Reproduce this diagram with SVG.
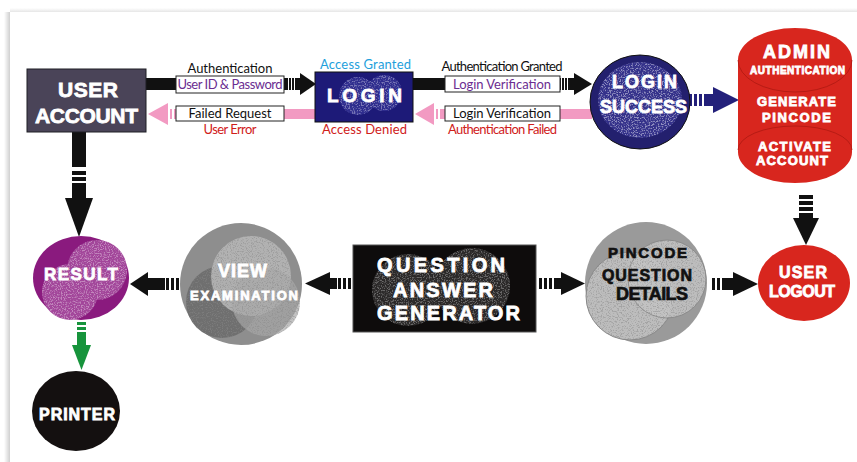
<svg xmlns="http://www.w3.org/2000/svg" width="857" height="462" viewBox="0 0 857 462">
<defs>
  <style>
    .h{font-family:"Liberation Sans",Arial,sans-serif;font-weight:bold;fill:#fff;stroke:#fff;stroke-width:.8;text-anchor:middle}
    .hk{font-family:"Liberation Sans",Arial,sans-serif;font-weight:bold;fill:#111;stroke:#111;stroke-width:.7;text-anchor:middle}
    .lb{font-family:Lato,"Open Sans",sans-serif;font-size:13px;text-anchor:middle}
    .box{fill:#fff;stroke:#222;stroke-width:1}
    .blk{fill:#111}
    .pnk{fill:#f29ac2}
    .nav{fill:#23207a}
    .grn{fill:#17943c}
  </style>
  <filter id="spw" x="0" y="0" width="100%" height="100%">
    <feTurbulence type="fractalNoise" baseFrequency="0.75" numOctaves="3" seed="5"/>
    <feColorMatrix type="matrix" values="0 0 0 0 1  0 0 0 0 1  0 0 0 0 1  5 0 0 0 -2.4"/>
    <feComposite in2="SourceGraphic" operator="in"/>
  </filter>
  <filter id="spk" x="0" y="0" width="100%" height="100%">
    <feTurbulence type="fractalNoise" baseFrequency="0.8" numOctaves="3" seed="9"/>
    <feColorMatrix type="matrix" values="0 0 0 0 0.25  0 0 0 0 0.25  0 0 0 0 0.25  5 0 0 0 -2.5"/>
    <feComposite in2="SourceGraphic" operator="in"/>
  </filter>
  <linearGradient id="shL" x1="0" y1="0" x2="1" y2="0">
    <stop offset="0" stop-color="#fff"/>
    <stop offset="1" stop-color="#cfcfcf"/>
  </linearGradient>
  <linearGradient id="shT" x1="0" y1="0" x2="0" y2="1">
    <stop offset="0" stop-color="#fff"/>
    <stop offset="1" stop-color="#e6e6e6"/>
  </linearGradient>
</defs>

<rect width="857" height="462" fill="#fff"/>
<g id="page">
  <rect x="4" y="12" width="6" height="450" fill="url(#shL)"/>
  <rect x="10" y="8" width="847" height="4" fill="url(#shT)"/>
</g>

<g id="connectors">
  <!-- USER ACCOUNT -> LOGIN -->
  <g class="blk">
    <rect x="146" y="78" width="142" height="12"/>
    <rect x="289" y="78" width="2" height="12"/>
    <rect x="292" y="78" width="2" height="12"/>
    <rect x="295" y="78" width="6" height="12"/>
    <path d="M300,73 L316,84 L300,95 Z"/>
  </g>
  <rect class="box" x="176" y="76" width="108" height="17"/>
  <text class="lb" x="230" y="72.5" fill="#111" textLength="85">Authentication</text>
  <text class="lb" x="230" y="88.5" fill="#6b2d91" textLength="105">User ID &amp; Password</text>

  <!-- LOGIN -> USER ACCOUNT (failed) -->
  <g class="pnk">
    <rect x="174" y="109" width="141" height="10"/>
    <rect x="170" y="109" width="2" height="10"/>
    <path d="M168,103 L148,114 L168,125 Z"/>
  </g>
  <rect class="box" x="176" y="106" width="108" height="15"/>
  <text class="lb" x="230" y="117.5" fill="#111" textLength="83">Failed Request</text>
  <text class="lb" x="230" y="133.5" fill="#d0201a" font-size="12" textLength="53">User Error</text>

  <!-- LOGIN -> LOGIN SUCCESS -->
  <g class="blk">
    <rect x="413" y="78" width="148" height="12"/>
    <rect x="562" y="78" width="2" height="12"/>
    <rect x="565" y="78" width="2" height="12"/>
    <rect x="568" y="78" width="7" height="12"/>
    <path d="M574,73 L592,84 L574,95 Z"/>
  </g>
  <rect class="box" x="445" y="76" width="115" height="16"/>
  <text class="lb" x="502" y="71" fill="#111" font-size="12.5" textLength="121">Authentication Granted</text>
  <text class="lb" x="502" y="88.5" fill="#6b2d91" font-size="14" textLength="98">Login Verification</text>

  <!-- LOGIN SUCCESS -> LOGIN (failed) -->
  <g class="pnk">
    <rect x="440" y="109" width="152" height="10"/>
    <rect x="436" y="109" width="2" height="10"/>
    <path d="M434,103 L415,114 L434,125 Z"/>
  </g>
  <rect class="box" x="445" y="106" width="115" height="15"/>
  <text class="lb" x="502" y="118" fill="#111" font-size="14" textLength="98">Login Verification</text>
  <text class="lb" x="502.5" y="134" fill="#d0201a" font-size="12.5" textLength="109">Authentication Failed</text>

  <!-- LOGIN SUCCESS -> ADMIN -->
  <g class="nav">
    <rect x="688" y="94" width="4" height="12"/>
    <rect x="694" y="94" width="3" height="12"/>
    <rect x="699" y="94" width="3" height="12"/>
    <rect x="704" y="94" width="10" height="12"/>
    <path d="M713,87 L739,100 L713,113 Z"/>
  </g>

  <!-- ADMIN -> USER LOGOUT -->
  <g class="blk">
    <rect x="799" y="195" width="14" height="4"/>
    <rect x="799" y="201" width="14" height="4"/>
    <rect x="799" y="207" width="14" height="4"/>
    <rect x="799" y="213" width="14" height="6"/>
    <path d="M793,218 L819,218 L806,245 Z"/>
  </g>

  <!-- PINCODE -> USER LOGOUT -->
  <g class="blk">
    <rect x="712" y="278" width="3" height="12"/>
    <rect x="717" y="278" width="3" height="12"/>
    <rect x="722" y="278" width="13" height="12"/>
    <path d="M733,272 L758,284 L733,296 Z"/>
  </g>

  <!-- QAG -> PINCODE -->
  <g class="blk">
    <rect x="539" y="278" width="3" height="11"/>
    <rect x="544" y="278" width="3" height="11"/>
    <rect x="549" y="278" width="3" height="11"/>
    <rect x="554" y="278" width="8" height="11"/>
    <path d="M561,272 L585,283.5 L561,295 Z"/>
  </g>

  <!-- QAG -> VIEW -->
  <g class="blk">
    <rect x="348" y="278" width="3" height="11"/>
    <rect x="343" y="278" width="3" height="11"/>
    <rect x="338" y="278" width="3" height="11"/>
    <rect x="329" y="278" width="8" height="11"/>
    <path d="M330,272 L305,283.5 L330,295 Z"/>
  </g>

  <!-- VIEW -> RESULT -->
  <g class="blk">
    <rect x="176" y="278" width="3" height="12"/>
    <rect x="171" y="278" width="3" height="12"/>
    <rect x="166" y="278" width="3" height="12"/>
    <rect x="147" y="278" width="18" height="12"/>
    <path d="M148,272 L130,284 L148,296 Z"/>
  </g>

  <!-- USER ACCOUNT -> RESULT -->
  <g class="blk">
    <rect x="72" y="132" width="14" height="35"/>
    <rect x="72" y="171" width="14" height="4"/>
    <rect x="72" y="177" width="14" height="4"/>
    <rect x="72" y="183" width="14" height="16"/>
    <path d="M65,198 L93,198 L79,237 Z"/>
  </g>

  <!-- RESULT -> PRINTER -->
  <g class="grn">
    <rect x="77" y="322" width="9" height="3"/>
    <rect x="77" y="327" width="9" height="3"/>
    <rect x="77" y="332" width="9" height="14"/>
    <path d="M72,345 L91,345 L81.5,370 Z"/>
  </g>
</g>

<g id="user-account">
  <rect x="27" y="69" width="119" height="63" fill="#4a4458" stroke="#1e1e24" stroke-width="1"/>
  <text class="h" x="88" y="97" font-size="21" textLength="60">USER</text>
  <text class="h" x="86.5" y="123" font-size="21" textLength="103">ACCOUNT</text>
</g>

<g id="login">
  <rect x="315" y="72" width="98" height="50" fill="#1d1a78" stroke="#111" stroke-width="1"/>
  <circle cx="358" cy="96" r="19" fill="#2f2d8e"/>
  <circle cx="384" cy="93" r="18" fill="#2f2d8e"/>
  <g opacity="0.35" filter="url(#spw)">
    <circle cx="358" cy="96" r="19" fill="#000"/>
    <circle cx="384" cy="93" r="18" fill="#000"/>
  </g>
  <text class="h" x="364.5" y="102" font-size="19" textLength="75">LOGIN</text>
  <text class="lb" x="365.5" y="69" fill="#1ea0dc" font-size="14" textLength="91">Access Granted</text>
  <text class="lb" x="364.5" y="134" fill="#d0201a" font-size="14" textLength="85">Access Denied</text>
</g>

<g id="login-success">
  <ellipse cx="640" cy="102" rx="50" ry="47" fill="#23206e" stroke="#111" stroke-width="1"/>
  <ellipse cx="640" cy="100" rx="42" ry="38" fill="#34318a"/>
  <ellipse cx="640" cy="100" rx="42" ry="38" fill="#000" opacity="0.45" filter="url(#spw)"/>
  <text class="h" x="644.5" y="88" font-size="18" textLength="65">LOGIN</text>
  <text class="h" x="643.5" y="113" font-size="18" textLength="87">SUCCESS</text>
</g>

<g id="admin">
  <path d="M738,60 A57,32 0 0 1 852,60 L852,152 A57,31 0 0 1 738,152 Z" fill="#d8261e"/>
  <path d="M738,60 A57,32 0 0 0 852,60" fill="none" stroke="#a8170f" stroke-width="1" opacity="0.7"/>
  <path d="M738,150 A57,24 0 0 1 852,150" fill="none" stroke="#a8170f" stroke-width="1" opacity="0.7"/>
  <text class="h" x="796.5" y="58" font-size="18" textLength="67">ADMIN</text>
  <text class="h" x="797.5" y="74" font-size="10" stroke-width=".3" textLength="95">AUTHENTICATION</text>
  <text class="h" x="796.5" y="106" font-size="13" stroke-width=".5" textLength="79">GENERATE</text>
  <text class="h" x="796.5" y="122" font-size="13" stroke-width=".5" textLength="69">PINCODE</text>
  <text class="h" x="794.5" y="151" font-size="13" stroke-width=".5" textLength="73">ACTIVATE</text>
  <text class="h" x="792" y="165" font-size="13" stroke-width=".5" textLength="72">ACCOUNT</text>
</g>

<g id="user-logout">
  <ellipse cx="804" cy="283" rx="46" ry="38" fill="#d8261e"/>
  <text class="h" x="803" y="278" font-size="16" textLength="48">USER</text>
  <text class="h" x="802" y="297" font-size="16" textLength="66">LOGOUT</text>
</g>

<g id="pincode-question-details">
  <circle cx="646" cy="283" r="61" fill="#9a9a9a"/>
  <circle cx="630" cy="296" r="44" fill="#bdbdbd" stroke="#888" stroke-width="1"/>
  <circle cx="667" cy="279" r="39" fill="#c4c4c4" stroke="#888" stroke-width="1" opacity="0.85"/>
  <g opacity="0.5" filter="url(#spk)">
    <circle cx="630" cy="296" r="44" fill="#000"/>
    <circle cx="667" cy="279" r="39" fill="#000"/>
  </g>
  <text class="hk" x="647.5" y="258" font-size="15" textLength="79">PINCODE</text>
  <text class="hk" x="647" y="281" font-size="16" textLength="90">QUESTION</text>
  <text class="hk" x="652" y="300" font-size="18" textLength="72">DETAILS</text>
</g>

<g id="question-answer-generator">
  <rect x="353" y="245" width="183" height="87" fill="#0e0c0c" stroke="#555" stroke-width="1"/>
  <circle cx="408" cy="290" r="36" fill="#2a2828"/>
  <circle cx="472" cy="286" r="38" fill="#2a2828"/>
  <g opacity="0.3" filter="url(#spw)">
    <circle cx="408" cy="290" r="36" fill="#000"/>
    <circle cx="472" cy="286" r="38" fill="#000"/>
  </g>
  <text class="h" x="441" y="272" font-size="20" stroke-width="1" textLength="128">QUESTION</text>
  <text class="h" x="443" y="297" font-size="20" stroke-width="1" textLength="100">ANSWER</text>
  <text class="h" x="448.5" y="320" font-size="20" stroke-width="1" textLength="143">GENERATOR</text>
</g>

<g id="view-examination">
  <circle cx="241" cy="284" r="61" fill="#8e8e8e"/>
  <circle cx="222" cy="302" r="36" fill="#6f6f6f"/>
  <circle cx="251" cy="276" r="40" fill="#b6b6b6" opacity="0.9"/>
  <circle cx="266" cy="302" r="34" fill="#a8a8a8" opacity="0.7"/>
  <g opacity="0.5" filter="url(#spk)">
    <circle cx="222" cy="302" r="36" fill="#000"/>
    <circle cx="251" cy="276" r="40" fill="#000"/>
    <circle cx="266" cy="302" r="34" fill="#000"/>
  </g>
  <text class="h" x="242.5" y="277" font-size="18" textLength="49">VIEW</text>
  <text class="h" x="244" y="300" font-size="13" stroke-width=".5" textLength="108">EXAMINATION</text>
</g>

<g id="result">
  <ellipse cx="81" cy="278" rx="48" ry="42" fill="#8a1a7e"/>
  <circle cx="97" cy="270" r="30" fill="#a2469a"/>
  <circle cx="70" cy="292" r="28" fill="#a2469a"/>
  <g opacity="0.35" filter="url(#spw)">
    <circle cx="97" cy="270" r="30" fill="#000"/>
    <circle cx="70" cy="292" r="28" fill="#000"/>
  </g>
  <text class="h" x="81" y="280" font-size="17" textLength="74">RESULT</text>
</g>

<g id="printer">
  <ellipse cx="76" cy="411" rx="44" ry="40" fill="#141010"/>
  <text class="h" x="77" y="420" font-size="16" textLength="76">PRINTER</text>
</g>
</svg>
